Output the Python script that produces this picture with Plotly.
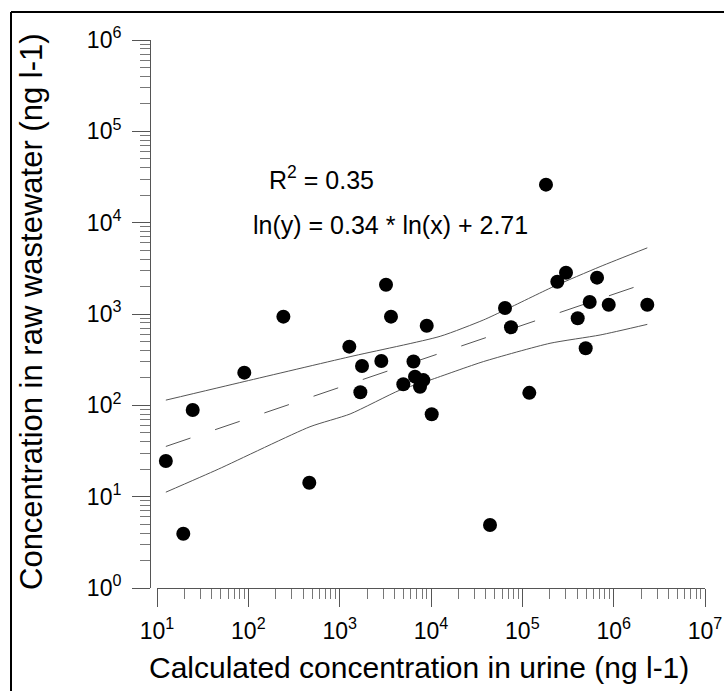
import math
import plotly.graph_objects as go

# ---- data ----
urine = [12.5, 19.4, 24.6, 90.3, 242, 465, 1276, 1684, 1757, 2858, 3216, 3647,
         4977, 6430, 6680, 7580, 8240, 8980, 10180, 44260, 64600, 75100, 119200,
         181500, 241500, 300700, 403700, 494000, 546600, 657600, 883000, 2335000]
wastewater = [24.6, 3.93, 88.9, 228, 935, 14.2, 439, 139, 270, 306, 2094, 935,
              170, 302, 206, 160, 189, 743, 80, 4.9, 1164, 715, 137,
              26060, 2258, 2833, 897, 421, 1353, 2500, 1265, 1265]

fit_slope = 0.34
fit_intercept = 2.71
r2 = 0.35

upper_x = [12.5, 90, 1300, 12600, 37400, 64600, 218000, 710000, 2335000]
upper_y = [114, 182, 341, 570, 859, 1107, 1990, 3300, 5300]
lower_x = [12.5, 46.9, 473, 1300, 4580, 9750, 37400, 201000, 710000, 2335000]
lower_y = [11.2, 20.0, 58.3, 80.4, 147, 189, 301, 478, 589, 770]

x_tick_exp = [1, 2, 3, 4, 5, 6, 7]
y_tick_exp = [0, 1, 2, 3, 4, 5, 6]
minor_digits = [2, 3, 4, 5, 6, 7, 8, 9]

fit_x = [min(urine), max(urine)]
fit_y = [math.exp(fit_intercept) * v ** fit_slope for v in fit_x]

W, H = 724, 691
FONT = "Liberation Sans, Arial, sans-serif"


def px(x):
    return x / W


def py(y):
    return 1 - y / H


def minor_vals(exps):
    return [d * 10 ** e for e in exps[:-1] for d in minor_digits]


fig = go.Figure()
fig.add_trace(go.Scatter(x=upper_x, y=upper_y, mode="lines",
                         line=dict(color="#555555", width=1, shape="spline", smoothing=0.6),
                         hoverinfo="skip"))
fig.add_trace(go.Scatter(x=lower_x, y=lower_y, mode="lines",
                         line=dict(color="#555555", width=1, shape="spline", smoothing=0.6),
                         hoverinfo="skip"))
fig.add_trace(go.Scatter(x=fit_x, y=fit_y, mode="lines",
                         line=dict(color="#555555", width=1, dash="26px,26px"),
                         hoverinfo="skip"))
fig.add_trace(go.Scatter(x=urine, y=wastewater, mode="markers",
                         marker=dict(color="black", size=14, line=dict(width=0))))

axis_common = dict(
    type="log", showgrid=False, zeroline=False, showline=True,
    linecolor="#555555", linewidth=1, ticks="outside", ticklen=18,
    tickcolor="#555555", tickwidth=1,
    tickfont=dict(family=FONT, size=23, color="black"),
    automargin=False,
)

fig.update_layout(
    width=W, height=H,
    margin=dict(l=0, r=0, t=0, b=0),
    paper_bgcolor="white", plot_bgcolor="white",
    showlegend=False,
    xaxis=dict(axis_common, domain=[px(157), px(705)], range=[1, 7],
               tickmode="array",
               tickvals=[10 ** e for e in x_tick_exp],
               ticktext=["10<sup>%d</sup>" % e for e in x_tick_exp],
               minor=dict(ticks="outside", ticklen=10, tickcolor="#777777", tickwidth=1,
                          tickmode="array", tickvals=minor_vals(x_tick_exp), showgrid=False),
               ticklabelstandoff=4,
               anchor="y"),
    yaxis=dict(axis_common, domain=[py(588), py(40)], range=[0, 6],
               tickmode="array",
               tickvals=[10 ** e for e in y_tick_exp],
               ticktext=["10<sup>%d</sup>" % e for e in y_tick_exp],
               minor=dict(ticks="outside", ticklen=10, tickcolor="#777777", tickwidth=1,
                          tickmode="array", tickvals=minor_vals(y_tick_exp), showgrid=False),
               ticklabelstandoff=6,
               anchor="free", position=px(150)),
)

fig.add_annotation(xref="paper", yref="paper", x=px(419), y=py(667),
                   text="Calculated concentration in urine (ng l-1)",
                   showarrow=False, xanchor="center", yanchor="middle",
                   font=dict(family=FONT, size=30, color="black"))
fig.add_annotation(xref="paper", yref="paper", x=px(31), y=py(312),
                   text="Concentration in raw wastewater (ng l-1)", textangle=-90,
                   showarrow=False, xanchor="center", yanchor="middle",
                   font=dict(family=FONT, size=31, color="black"))
fig.add_annotation(xref="paper", yref="paper", x=px(267), y=py(178),
                   text="R<sup>2</sup> = %.2f" % r2,
                   showarrow=False, xanchor="left", yanchor="middle",
                   font=dict(family=FONT, size=25, color="black"))
fig.add_annotation(xref="paper", yref="paper", x=px(251), y=py(225),
                   text="ln(y) = %.2f * ln(x) + %.2f" % (fit_slope, fit_intercept),
                   showarrow=False, xanchor="left", yanchor="middle",
                   font=dict(family=FONT, size=25, color="black"))

# figure frame (left and top edges visible)
fig.add_shape(type="line", xref="paper", yref="paper", x0=px(11), x1=px(800),
              y0=py(12), y1=py(12), line=dict(color="black", width=2))
fig.add_shape(type="line", xref="paper", yref="paper", x0=px(11), x1=px(11),
              y0=py(12), y1=py(800), line=dict(color="black", width=2))

fig.write_html("out.html")
